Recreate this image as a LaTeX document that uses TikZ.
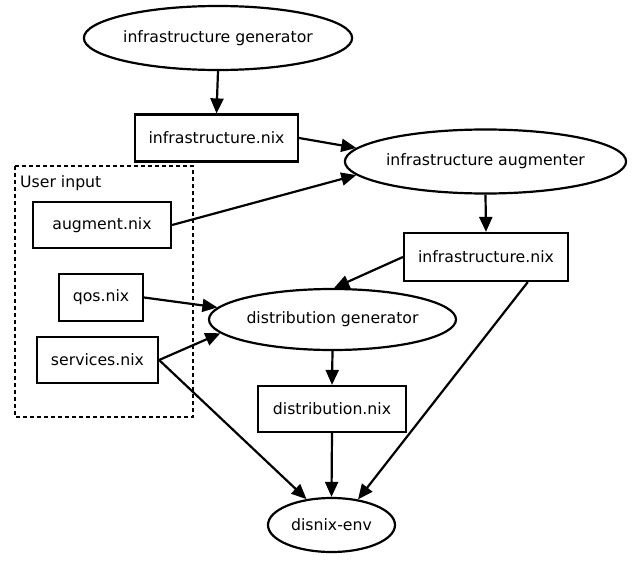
\documentclass[tikz,border=0pt]{standalone}
\usepackage{fontspec}
\setmainfont{DejaVu Sans}
\usetikzlibrary{arrows.meta,shapes.geometric}
\tikzset{
  every node/.style={font=\fontsize{15.7}{18}\selectfont},
  ell/.style={ellipse,draw,line width=2.2pt,inner sep=0pt},
  box/.style={rectangle,draw,line width=2.2pt,inner sep=0pt},
  edge/.style={line width=2.2pt,-{Triangle[length=15pt,width=13pt]}},
  grp/.style={draw,line width=2.2pt,dash pattern=on 4pt off 3pt}
}
\begin{document}
\begin{tikzpicture}[x=1pt,y=-1pt]
\useasboundingbox (0,0) rectangle (633,562);
\node[ell,minimum width=260pt,minimum height=64pt] (gen) at (218,38) {infrastructure generator};
\node[box,minimum width=163pt,minimum height=47pt] (infra1) at (216.5,138) {infrastructure.nix};
\node[ell,minimum width=267pt,minimum height=64pt] (aug) at (485.5,161.5) {infrastructure augmenter};
\draw[grp] (15,166) rectangle (193,417);
\node[anchor=base west,inner sep=0pt] (ui) at (20,187.5) {User input};
\node[box,minimum width=138pt,minimum height=46pt] (augment) at (102,225) {augment.nix};
\node[box,minimum width=164pt,minimum height=48pt] (infra2) at (486,257) {infrastructure.nix};
\node[box,minimum width=84pt,minimum height=47pt] (qos) at (101,297.5) {qos.nix};
\node[ell,minimum width=247pt,minimum height=61pt] (distgen) at (332.5,319.5) {distribution generator};
\node[box,minimum width=121pt,minimum height=46pt] (services) at (97.5,360) {services.nix};
\node[box,minimum width=148pt,minimum height=46pt] (distnix) at (332,409) {distribution.nix};
\node[ell,minimum width=127pt,minimum height=54pt] (disnix) at (331.5,525) {disnix-env};

\draw[edge] (gen.south) -- (infra1.north);
\draw[edge] (infra1.east) -- (aug.174);
\draw[edge] (augment.east) -- (aug.186);
\draw[edge] (aug.south) -- (infra2.north);
\draw[edge] (infra2.west) -- (distgen.87);
\draw[edge] (qos.east) -- (distgen.174);
\draw[edge] (services.east) -- (distgen.187);
\draw[edge] (services.east) -- (disnix.134);
\draw[edge] (distgen.south) -- (distnix.north);
\draw[edge] (distnix.south) -- (disnix.north);
\draw[edge] (infra2.-31) -- (disnix.44);
\end{tikzpicture}
\end{document}
